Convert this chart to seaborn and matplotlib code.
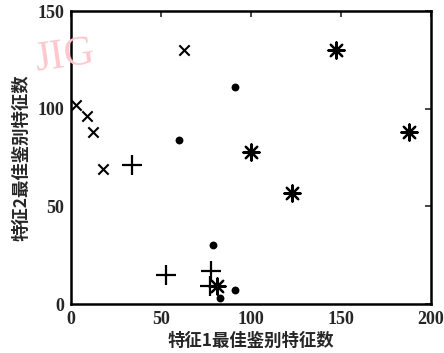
import matplotlib
matplotlib.use("Agg")
import matplotlib.pyplot as plt
import seaborn as sns
import pandas as pd

# data
cross_x = [3, 9, 12, 18, 63]
cross_y = [102, 96, 88, 69, 130]
plus_x = [34, 53, 78, 77]
plus_y = [71, 15, 17, 9]
dot_x = [60, 91, 79, 91, 83]
dot_y = [84, 111, 30, 7, 3]
star_x = [147, 188, 100, 123, 81]
star_y = [130, 88, 78, 57, 9]
xticks = [0, 50, 100, 150, 200]
yticks = [0, 50, 100, 150]
xlabel = "特征1最佳鉴别特征数"
ylabel = "特征2最佳鉴别特征数"

sns.set_style("white")
plt.rcParams['font.family'] = ['Liberation Serif', 'Noto Sans CJK SC', 'DejaVu Sans']

fig = plt.figure(figsize=(4.44, 3.53), dpi=100)
ax = fig.add_axes([0.16, 0.1388, 0.8107, 0.83])

# faint watermark (behind everything)
fig.text(0.072, 0.80, "JIG", color='#fcc8cd', fontsize=30, family='Liberation Serif',
         rotation=8, zorder=0)

groups = [
    (cross_x, cross_y, 'x', 55, 1.5),
    (plus_x, plus_y, '+', 190, 1.6),
    (dot_x, dot_y, 'o', 32, 0),
    (star_x, star_y, (8, 2, 0), 135, 1.6),
]
for gx, gy, m, s, lw in groups:
    df = pd.DataFrame({'x': gx, 'y': gy})
    if m == 'o':
        sns.scatterplot(data=df, x='x', y='y', marker=m, s=s, color='black',
                        edgecolor='black', linewidth=0, ax=ax, zorder=3)
    else:
        sns.scatterplot(data=df, x='x', y='y', marker=m, s=s, color='black',
                        linewidth=lw, ax=ax, zorder=3)

ax.patch.set_alpha(0)
ax.set_xlim(0, 200)
ax.set_ylim(0, 150)
ax.set_xticks(xticks)
ax.set_yticks(yticks)
ax.tick_params(direction='in', length=4, width=1.2, top=True, right=True,
               labelsize=13, pad=5)
for lab in ax.get_xticklabels() + ax.get_yticklabels():
    lab.set_fontweight('bold')
    lab.set_family('Liberation Serif')
for sp in ax.spines.values():
    sp.set_linewidth(1.8)
    sp.set_color('black')
    sp.set_visible(True)

ax.set_xlabel(xlabel, family=['Noto Sans CJK SC'], fontweight='bold', fontsize=12.5, labelpad=3)
ax.set_ylabel(ylabel, family=['Noto Sans CJK SC'], fontweight='bold', fontsize=12.5, labelpad=5)

fig.savefig("out.png", dpi=100)
